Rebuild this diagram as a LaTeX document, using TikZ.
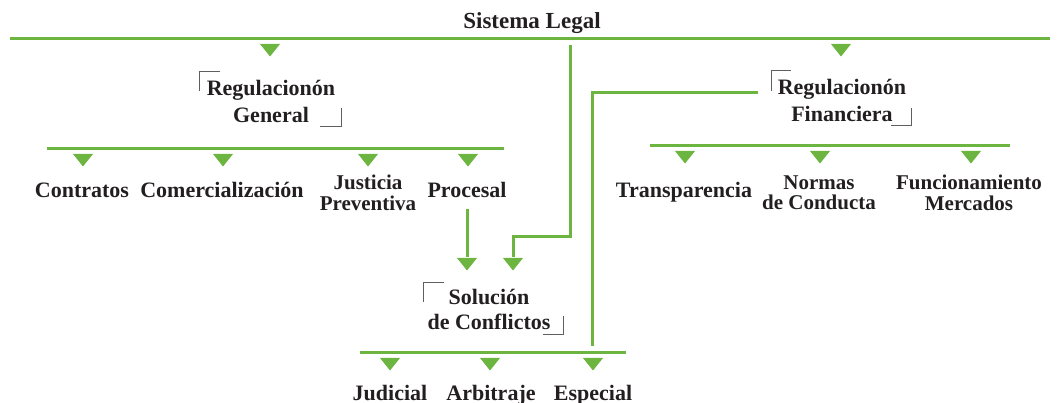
\documentclass[tikz,border=0pt]{standalone}
\usepackage{fontspec}
\setmainfont{Liberation Serif}
\usetikzlibrary{positioning}
\definecolor{grn}{RGB}{108,181,64}
\definecolor{ink}{RGB}{35,31,32}
\definecolor{brk}{RGB}{95,95,95}
\tikzset{
 lbl/.style={font=\fontsize{22}{20}\selectfont\bfseries, text=ink, align=center, inner sep=0pt},
 two/.style={lbl, font=\fontsize{21}{20.5}\selectfont\bfseries},
 head/.style={lbl, font=\fontsize{22}{27}\selectfont\bfseries},
 bar/.style={grn, line width=3pt},
 crn/.style={brk, line width=1pt},
}
\begin{document}
\begin{tikzpicture}[x=1pt,y=-1pt]
\useasboundingbox (0,0) rectangle (1058,403);
% titulo
\node[lbl, font=\fontsize{23}{23}\selectfont\bfseries, anchor=base] (sl) at (532,29) {Sistema Legal};
\draw[bar] (10,38.5) -- (1050,38.5);
% ramas
\node[head] (rg) at (271,101) {Regulacionón\\General};
\node[head] (rf) at (842,100.5) {Regulacionón\\Financiera};
\node[head, font=\fontsize{22}{25}\selectfont\bfseries] (sc) at (489,309.5) {Solución\\de Conflictos};
\draw[crn] (199,91) |- (220,72);
\draw[crn] (320,127) -| (341,108);
\draw[crn] (771,91) |- (791,71);
\draw[crn] (891,126) -| (911,108);
\draw[crn] (423,302) |- (443.5,282.5);
\draw[crn] (543,335) -| (563,316);
\draw[bar] (47,149) -- (504,149);
\draw[bar] (650,146) -- (1010,146);
\draw[bar] (360,353) -- (626,353);
% hojas
\node[lbl, anchor=base] (co) at (82,198) {Contratos};
\node[lbl, anchor=base] (cm) at (222,198) {Comercialización};
\node[two] (jp) at (368,193) {Justicia\\Preventiva};
\node[lbl, anchor=base] (pr) at (467,198) {Procesal};
\node[lbl, anchor=base] (tr) at (684,198) {Transparencia};
\node[two] (nc) at (819,193) {Normas\\de Conducta};
\node[two] (fm) at (969,193) {Funcionamiento\\Mercados};
\node[lbl, anchor=base] (ju) at (390,400) {Judicial};
\node[lbl, anchor=base] (ar) at (491,400) {Arbitraje};
\node[lbl, anchor=base] (es) at (593,400) {Especial};
% triangulos
\foreach \x/\y in {270/44, 841/44, 83/154, 223/154, 368/154, 468/154, 685/151, 820/151, 971/151, 467/258, 513/258, 390/358, 490/358, 593/358}
  \fill[grn] (\x-10,\y) -- (\x+10,\y) -- (\x,\y+12.5) -- cycle;
% conexiones
\coordinate (s0) at (570,45);
\coordinate (ts1) at (467,257);
\coordinate (ts2) at (513,257);
\coordinate (rfe) at (758,92.5);
\coordinate (te3) at (592.5,346);
\draw[bar] ([yshift=-11pt]pr.south) -- (ts1);
\draw[bar] (s0) -- (570,237) -| (ts2);
\draw[bar] (rfe) -| (te3);
\end{tikzpicture}
\end{document}
